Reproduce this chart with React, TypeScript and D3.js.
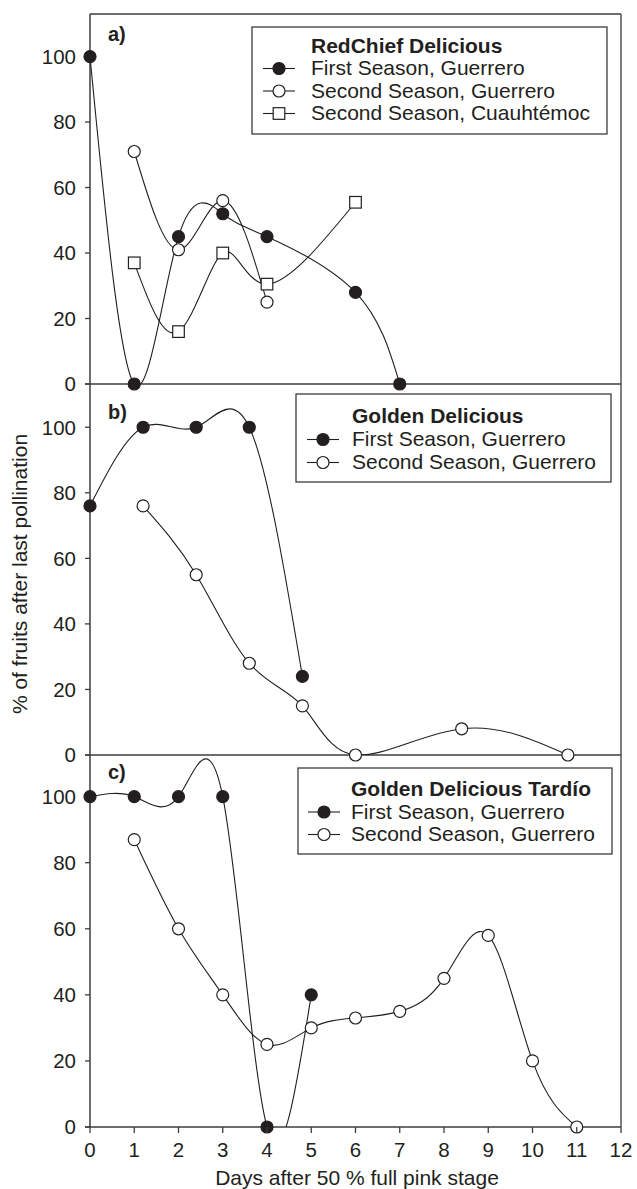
import * as d3 from "d3";
import {useMemo} from "react";

// x ticks (days) and y ticks (%)
const dayTicks = [0, 1, 2, 3, 4, 5, 6, 7, 8, 9, 10, 11, 12];
const pctTicks = [0, 20, 40, 60, 80, 100];

// a) RedChief Delicious
const redFirstX = [0, 1, 2, 3, 4, 6, 7];
const redFirstY = [100, 0, 45, 52, 45, 28, 0];
const redSecondX = [1, 2, 3, 4];
const redSecondY = [71, 41, 56, 25];
const redCuauhX = [1, 2, 3, 4, 6];
const redCuauhY = [37, 16, 40, 30.5, 55.5];

// b) Golden Delicious
const goldFirstX = [0, 1.2, 2.4, 3.6, 4.8];
const goldFirstY = [76, 100, 100, 100, 24];
const goldSecondX = [1.2, 2.4, 3.6, 4.8, 6, 8.4, 10.8];
const goldSecondY = [76, 55, 28, 15, 0, 8, 0];

// c) Golden Delicious Tardío
const tardFirstX = [0, 1, 2, 3, 4, 5];
const tardFirstY = [100, 100, 100, 100, 0, 40];
const tardSecondX = [1, 2, 3, 4, 5, 6, 7, 8, 9, 10, 11];
const tardSecondY = [87, 60, 40, 25, 30, 33, 35, 45, 58, 20, 0];

const firstLabel = "First Season, Guerrero";
const secondLabel = "Second Season, Guerrero";
const cuauhLabel = "Second Season, Cuauhtémoc";

const zip = (xs, ys) => xs.map((x, i) => ({x, y: ys[i]}));

const panels = [
  {
    id: "a", tag: "a)", title: "RedChief Delicious",
    top: 14, bottom: 384, yMax: 113, tagY: 41,
    legend: {x: 252, y: 27, w: 355, h: 107, sx: 263, tx: 311, t0: 52.5, step: 22.5},
    series: [
      {name: firstLabel, shape: "filled", pts: zip(redFirstX, redFirstY)},
      {name: secondLabel, shape: "open", pts: zip(redSecondX, redSecondY)},
      {name: cuauhLabel, shape: "square", pts: zip(redCuauhX, redCuauhY)},
    ],
  },
  {
    id: "b", tag: "b)", title: "Golden Delicious",
    top: 384, bottom: 755, yMax: 113.2, tagY: 419,
    legend: {x: 296, y: 394, w: 315, h: 88, sx: 307, tx: 352, t0: 423, step: 23},
    series: [
      {name: firstLabel, shape: "filled", pts: zip(goldFirstX, goldFirstY)},
      {name: secondLabel, shape: "open", pts: zip(goldSecondX, goldSecondY)},
    ],
  },
  {
    id: "c", tag: "c)", title: "Golden Delicious Tardío",
    top: 755, bottom: 1127, yMax: 112.6, tagY: 779,
    legend: {x: 298, y: 768, w: 314, h: 86, sx: 308, tx: 351, t0: 796, step: 22.5},
    series: [
      {name: firstLabel, shape: "filled", pts: zip(tardFirstX, tardFirstY)},
      {name: secondLabel, shape: "open", pts: zip(tardSecondX, tardSecondY)},
    ],
  },
];

const ink = "#231f20";
const frame = "#3c3c3c";
const font = "'Liberation Sans', Arial, Helvetica, sans-serif";

const Marker = ({shape, cx, cy}) => {
  if (shape === "square") {
    return <rect x={cx - 5.8} y={cy - 5.8} width={11.6} height={11.6} fill="#fff" stroke={ink} strokeWidth={1.2} />;
  }
  return <circle cx={cx} cy={cy} r={6} fill={shape === "filled" ? ink : "#fff"} stroke={ink} strokeWidth={1.2} />;
};

const Panel = ({p, x}) => {
  const y = useMemo(() => d3.scaleLinear().domain([0, p.yMax]).range([p.bottom, p.top]), [p]);
  const line = d3.line().x(d => x(d.x)).y(d => y(d.y)).curve(d3.curveNatural);
  const L = p.legend;
  return (
    <g>
      <defs>
        <clipPath id={`clip-${p.id}`}>
          <rect x={x(0)} y={p.top} width={x(12) - x(0)} height={p.bottom - p.top} />
        </clipPath>
      </defs>
      {/* y axis ticks */}
      {pctTicks.map(t => (
        <g key={t} transform={`translate(0,${y(t)})`}>
          <line x1={x(0) - 5} x2={x(0)} stroke={frame} strokeWidth={1.3} />
          <text x={x(0) - 14} dy="0.36em" textAnchor="end" fontSize={20.5} fill={ink}>{t}</text>
        </g>
      ))}
      {/* frame separator at panel bottom */}
      <line x1={x(0) - 5} x2={x(12)} y1={p.bottom} y2={p.bottom} stroke={frame} strokeWidth={1.3} />
      <text x={108} y={p.tagY} fontWeight="bold" fontSize={20} fill={ink}>{p.tag}</text>
      {/* data */}
      <g clipPath={`url(#clip-${p.id})`}>
        {p.series.map(s => (
          <path key={s.name} d={line(s.pts)} fill="none" stroke={ink} strokeWidth={1.1} />
        ))}
      </g>
      {p.series.map(s => s.pts.map((d, i) => (
        <Marker key={s.name + i} shape={s.shape} cx={x(d.x)} cy={y(d.y)} />
      )))}
      {/* legend */}
      <rect x={L.x} y={L.y} width={L.w} height={L.h} fill="#fff" stroke={frame} strokeWidth={1.3} />
      <text x={L.tx} y={L.t0} fontWeight="bold" fontSize={21} fill={ink}>{p.title}</text>
      {p.series.map((s, i) => {
        const by = L.t0 + L.step * (i + 1);
        return (
          <g key={s.name}>
            <line x1={L.sx} x2={L.sx + 32} y1={by - 6.5} y2={by - 6.5} stroke={ink} strokeWidth={1.1} />
            <Marker shape={s.shape} cx={L.sx + 16} cy={by - 6.5} />
            <text x={L.tx} y={by} fontSize={21} fill={ink}>{s.name}</text>
          </g>
        );
      })}
    </g>
  );
};

export default function App() {
  const x = useMemo(() => d3.scaleLinear().domain([0, 12]).range([90, 621]), []);
  const width = 637;
  const height = 1189;
  return (
    <svg width={width} height={height} style={{position: "absolute", left: 0, top: 0, display: "block", background: "#fff"}}
      fontFamily={font}>
      {/* outer frame */}
      <line x1={x(0)} x2={x(0)} y1={14} y2={1127} stroke={frame} strokeWidth={1.5} />
      <line x1={x(0)} x2={x(12)} y1={14} y2={14} stroke={frame} strokeWidth={1.3} />
      <line x1={x(12)} x2={x(12)} y1={14} y2={1127} stroke={frame} strokeWidth={1.3} />
      {panels.map(p => <Panel key={p.id} p={p} x={x} />)}
      {/* x axis */}
      {dayTicks.map(t => (
        <g key={t} transform={`translate(${x(t)},1127)`}>
          <line y1={0} y2={6} stroke={frame} strokeWidth={1.3} />
          <text y={30} textAnchor="middle" fontSize={20.5} fill={ink}>{t}</text>
        </g>
      ))}
      <text x={357} y={1185} textAnchor="middle" fontSize={21} fill={ink}>Days after 50 % full pink stage</text>
      <text transform="translate(27,574) rotate(-90)" textAnchor="middle" fontSize={21} fill={ink}>% of fruits after last pollination</text>
    </svg>
  );
}
